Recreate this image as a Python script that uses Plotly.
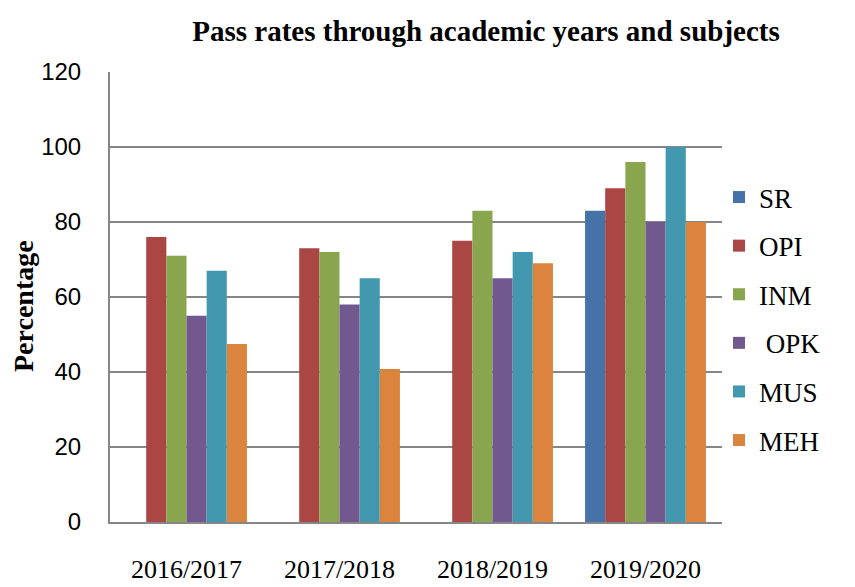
import plotly.graph_objects as go

years = ["2016/2017", "2017/2018", "2018/2019", "2019/2020"]
subjects = ["SR", "OPI", "INM", " OPK", "MUS", "MEH"]
SR = [None, None, None, 83]
OPI = [76, 73, 75, 89]
INM = [71, 72, 83, 96]
OPK = [55, 58, 65, 80]
MUS = [67, 65, 72, 100]
MEH = [47.5, 40.8, 69, 80]
series = [SR, OPI, INM, OPK, MUS, MEH]
colors = ["#4572A7", "#AA4643", "#89A54E", "#71588F", "#4198AF", "#DB843D"]

serif = "Liberation Serif, Times New Roman, serif"
sans = "Liberation Sans, Arial, sans-serif"

W, H = 847, 579  # page body has an 8px margin

fig = go.Figure()
for name, vals, col in zip(subjects, series, colors):
    fig.add_trace(go.Bar(name=name, x=years, y=vals,
                         marker=dict(color=col, line=dict(width=0)),
                         legendgroup=name))

fig.update_layout(
    width=W, height=H,
    margin=dict(l=102, r=133, t=64, b=65, autoexpand=False),
    plot_bgcolor="white", paper_bgcolor="white",
    barmode="group", bargap=0.21, bargroupgap=0,
    title=dict(text="<b>Pass rates through academic years and subjects</b>",
               x=478 / W, xanchor="center", xref="container",
               y=1 - 23 / H, yanchor="middle", yref="container",
               font=dict(family=serif, size=29, color="black")),
    legend=dict(x=711 / W, xref="container", y=1 - 165 / H, yref="container",
                yanchor="top", xanchor="left", tracegroupgap=10.5, maxheight=1,
                font=dict(family=serif, size=27, color="black"),
                bgcolor="rgba(0,0,0,0)"),
    showlegend=True,
    xaxis=dict(showline=True, linecolor="#868686", linewidth=2, ticks="",
               automargin=False,
               tickfont=dict(family=serif, size=26, color="black"),
               ticklabelstandoff=23),
    yaxis=dict(range=[0, 120], dtick=20, showgrid=True, gridcolor="#868686", gridwidth=2,
               showline=True, linecolor="#868686", linewidth=2, ticks="",
               zeroline=False, automargin=False,
               tickfont=dict(family=sans, size=24, color="black"),
               ticklabelstandoff=22),
    annotations=[dict(text="<b>Percentage</b>", textangle=-90,
                      x=(15 - 102) / 612, xref="paper", xanchor="center",
                      y=(514 - 298) / 450, yref="paper", yanchor="middle",
                      showarrow=False,
                      font=dict(family=serif, size=28, color="black"))],
)
fig.write_html("out.html")
